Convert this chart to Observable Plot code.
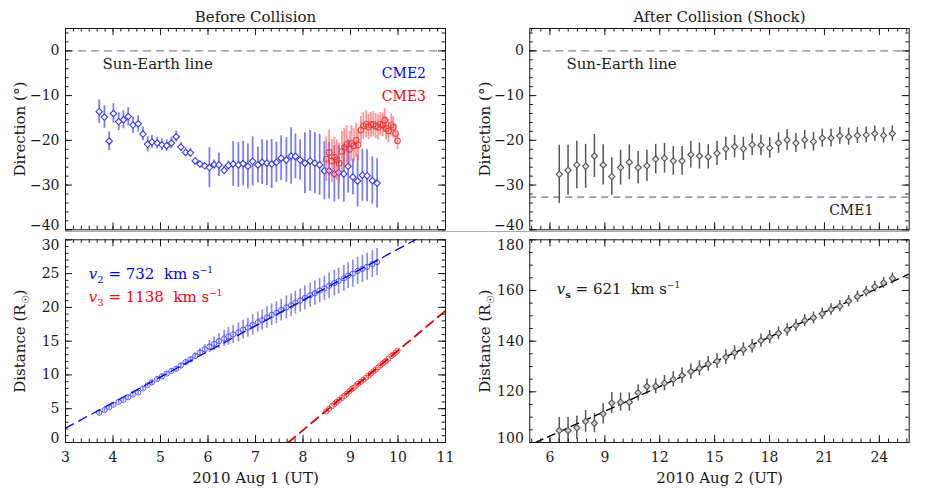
<!DOCTYPE html>
<html><head><meta charset="utf-8">
<script src="https://cdn.jsdelivr.net/npm/d3@7"></script>
<script src="https://cdn.jsdelivr.net/npm/@observablehq/plot@0.6"></script>
<style>
body{margin:0;background:#fff;}
#wrap{position:relative;width:929px;height:491px;background:#fff;font-family:"DejaVu Serif",serif;}
#wrap > svg{position:absolute;overflow:visible;}
#sep{position:absolute;left:65px;top:231px;width:844px;border-top:1.5px solid #aaa;}
</style></head><body><div id="wrap"><div id="sep"></div></div>
<script>
// ---------------- data ----------------
const panelTitles = ["Before Collision", "After Collision (Shock)"];
const xTitles = ["2010 Aug 1 (UT)", "2010 Aug 2 (UT)"];
const yTitles = ["Direction (°)", "Distance (R☉)"];

const dirTicks = [-40, -30, -20, -10, 0];
const distTicksL = [0, 5, 10, 15, 20, 25, 30];
const distTicksR = [100, 120, 140, 160, 180];
const hourTicksL = [3, 4, 5, 6, 7, 8, 9, 10, 11];
const hourTicksR = [6, 9, 12, 15, 18, 21, 24];

const cme2Time = [3.71,3.82,3.92,4.01,4.12,4.22,4.32,4.42,4.53,4.63,
  4.73,4.82,4.93,5.03,5.13,5.23,5.33,5.43,5.53,5.63,
  5.73,5.83,5.93,6.03,6.13,6.23,6.34,6.43,6.53,6.64,
  6.74,6.84,6.94,7.05,7.14,7.24,7.34,7.44,7.54,7.65,
  7.75,7.84,7.94,8.04,8.15,8.25,8.35,8.45,8.55,8.66,
  8.75,8.86,8.95,9.05,9.15,9.25,9.35,9.46,9.56];
const cme2Dir = [-13.6,-14.8,-20.2,-14.0,-15.8,-15.4,-14.7,-16.6,-16.3,-18.6,
  -20.9,-20.4,-20.6,-21.0,-21.2,-20.6,-19.2,-21.5,-22.7,-22.8,
  -24.6,-25.3,-25.7,-26.1,-25.4,-25.5,-26.7,-25.6,-25.3,-25.5,
  -25.2,-25.8,-24.7,-25.5,-24.9,-25.1,-25.3,-24.9,-24.0,-24.4,
  -23.5,-23.6,-24.4,-25.1,-24.6,-25.1,-25.5,-26.8,-26.8,-27.5,
  -27.2,-27.5,-25.8,-28.2,-29.1,-27.8,-27.9,-29.0,-29.6];
const cme2DirErr = [2.6,2.5,2.1,2.2,2.0,2.0,2.0,1.8,1.8,1.5,
  1.7,1.5,1.3,1.3,1.3,1.3,1.2,1.0,1.0,1.0,
  0.6,0.5,0.5,4.5,1.0,2.6,1.0,1.0,5.0,5.0,
  5.0,5.0,5.5,4.0,5.0,5.0,5.5,4.5,5.0,5.0,
  6.3,5.0,4.5,6.8,6.8,6.8,6.8,6.5,6.3,6.3,
  6.0,6.3,6.0,4.0,5.8,5.8,5.8,5.3,5.5];
const cme2Dist = [4.4,4.8,5.2,5.6,6.0,6.3,6.7,7.1,7.4,8.0,
  8.5,8.9,9.4,9.8,10.2,10.6,10.9,11.4,11.9,12.3,
  12.8,13.3,13.8,14.2,14.6,15.0,15.4,15.7,16.0,16.3,
  16.7,17.0,17.4,17.8,18.1,18.5,18.9,19.2,19.6,20.0,
  20.3,20.7,21.0,21.4,21.8,22.1,22.5,22.8,23.2,23.6,
  23.9,24.3,24.7,25.0,25.4,25.7,26.0,26.4,26.7];
const cme2DistErr = [0.3,0.3,0.3,0.3,0.3,0.3,0.3,0.3,0.3,0.3,
  0.3,0.3,0.3,0.3,0.3,0.3,0.3,0.4,0.4,0.4,
  0.5,0.6,0.7,0.9,1.0,1.1,1.2,1.3,1.3,1.4,
  1.4,1.4,1.5,1.5,1.5,1.6,1.6,1.6,1.6,1.7,
  1.7,1.7,1.7,1.8,1.8,1.8,1.8,1.8,1.9,1.9,
  1.9,1.9,1.9,2.0,2.0,2.0,2.0,2.0,2.0];

const cme3Time = [8.49,8.55,8.61,8.66,8.71,8.76,8.82,8.87,8.92,8.98,
  9.02,9.07,9.12,9.16,9.22,9.27,9.33,9.38,9.43,9.48,
  9.53,9.58,9.63,9.68,9.72,9.75,9.80,9.86,9.90,9.95,9.99];
const cme3Dir = [-24.2,-22.7,-24.6,-23.8,-24.4,-25.1,-22.5,-21.6,-20.9,-22.0,
  -20.7,-21.2,-20.0,-21.0,-17.7,-16.8,-16.4,-17.0,-16.5,-16.4,
  -16.8,-17.1,-16.4,-16.6,-15.5,-17.4,-17.9,-16.6,-17.1,-18.5,-20.1];
const cme3DirErr = [5.0,5.0,4.8,4.5,4.5,4.5,4.5,4.2,4.2,4.0,
  4.0,3.8,3.8,3.5,3.0,3.0,3.0,2.8,2.8,2.8,
  2.8,2.8,2.6,2.6,2.6,2.6,2.6,2.4,2.4,2.2,2.0];
const cme3Dist = [4.6,5.0,5.4,5.7,6.0,6.3,6.6,6.9,7.2,7.6,
  7.9,8.1,8.4,8.7,9.0,9.3,9.6,9.9,10.2,10.5,
  10.8,11.1,11.4,11.7,11.9,12.1,12.4,12.8,13.0,13.3,13.6];

const shockTime = [6.51,6.99,7.47,7.95,8.43,8.91,9.38,9.86,10.34,10.82,
  11.30,11.78,12.26,12.74,13.22,13.70,14.17,14.65,15.13,15.61,
  16.09,16.57,17.05,17.53,18.01,18.49,18.96,19.44,19.92,20.40,
  20.88,21.36,21.84,22.32,22.80,23.28,23.75,24.23,24.71];
const shockDir = [-27.6,-26.7,-25.5,-25.8,-23.5,-25.5,-28.1,-26.1,-24.9,-26.1,
  -25.7,-24.2,-24.0,-24.6,-24.6,-23.2,-23.5,-23.7,-22.9,-21.9,
  -21.4,-21.9,-21.0,-21.1,-21.7,-20.6,-19.9,-20.6,-19.9,-20.3,
  -19.5,-19.5,-19.0,-19.2,-18.9,-18.8,-18.5,-18.9,-18.5];
const shockDirErr = [6.5,5.6,5.3,4.9,4.8,4.5,4.2,3.9,3.9,3.6,
  3.5,3.3,3.3,3.2,3.2,3.0,2.9,2.7,2.7,2.6,
  2.5,2.6,2.4,2.3,2.3,2.3,2.3,2.1,2.1,2.1,
  2.0,2.0,1.9,1.9,1.8,1.8,1.7,1.7,1.7];
const shockDist = [104.7,104.7,105.8,108.3,107.6,111.3,115.6,115.9,115.9,119.6,
  122.1,122.2,123.4,124.9,126.4,128.0,129.3,131.0,132.1,133.7,
  135.4,136.7,138.0,140.2,141.6,143.1,144.4,146.2,148.1,149.2,
  150.8,152.5,153.8,155.8,157.6,159.6,161.5,163.0,164.8];
const shockDistErr = [5.2,5.2,4.6,4.3,3.8,4.0,4.1,3.6,3.6,3.2,
  3.0,3.0,3.0,3.0,3.0,3.0,3.0,2.9,2.9,2.9,
  2.8,2.7,2.7,2.6,2.6,2.5,2.5,2.4,2.4,2.3,
  2.3,2.3,2.2,2.2,2.2,2.1,2.1,2.1,2.1];

// fitted kinematics (end points of the dashed fit lines)
const fitCme2Time = [3.0, 10.4];
const fitCme2Dist = [2.12, 30.14];
const fitCme3Time = [7.69, 11.0];
const fitCme3Dist = [0.0, 19.5];
const fitShockTime = [5.22, 25.6];
const fitShockDist = [100.0, 166.4];

const sunEarthDir = [0];
const cme1Dir = [-32.7];

const speedNames = ["2", "3", "s"];
const speedValues = [732, 1138, 621];

// ---------------- helpers ----------------
const zip = (t, v, e) => t.map((x, i) => ({t: x, v: v[i], e: e ? e[i] : 0}));
const rng = (a, b, s) => d3.range(Math.round(a / s), Math.round(b / s) + 1).map(k => +(k * s).toFixed(4));
const INK = "#1a1a1a";
const FONT = "DejaVu Serif";

function frameTicks(xMaj, xMin, yMaj, yMin, fw, fh) {
  const L = 7, S = 3.5;
  return [
    Plot.tickY(yMaj, {y: d => d, insetRight: fw - L, stroke: INK}),
    Plot.tickY(yMaj, {y: d => d, insetLeft: fw - L, stroke: INK}),
    Plot.tickY(yMin, {y: d => d, insetRight: fw - S, stroke: INK}),
    Plot.tickY(yMin, {y: d => d, insetLeft: fw - S, stroke: INK}),
    Plot.tickX(xMaj, {x: d => d, insetTop: fh - L, stroke: INK}),
    Plot.tickX(xMaj, {x: d => d, insetBottom: fh - L, stroke: INK}),
    Plot.tickX(xMin, {x: d => d, insetTop: fh - S, stroke: INK}),
    Plot.tickX(xMin, {x: d => d, insetBottom: fh - S, stroke: INK})
  ];
}

function tspan(el, text, attrs = {}) {
  const t = document.createElementNS("http://www.w3.org/2000/svg", "tspan");
  for (const k in attrs) t.setAttribute(k, attrs[k]);
  t.textContent = text;
  el.appendChild(t);
}
function enrich(svg) {
  svg.querySelectorAll("text").forEach(el => {
    const s = el.textContent;
    if (s === yTitles[1]) {
      el.textContent = "";
      tspan(el, "Distance (R");
      tspan(el, "☉", {dy: 4, "font-size": 10});
      tspan(el, ")", {dy: -4});
    } else if (s.startsWith("v") && s.includes(" = ")) {
      const m = s.match(/^v(\S+) = (\d+)/);
      el.textContent = "";
      tspan(el, "v", {"font-style": "italic"});
      tspan(el, m[1], {dy: 4, "font-size": 10, "font-weight": m[1] === "s" ? "bold" : "normal"});
      tspan(el, " = " + m[2] + "  km s", {dy: -4});
      tspan(el, "−1", {dy: -6, "font-size": 9});
    }
  });
}

function place(svg, left, top) {
  svg.style.left = left + "px";
  svg.style.top = top + "px";
  enrich(svg);
  document.getElementById("wrap").appendChild(svg);
}

const baseStyle = {fontFamily: FONT, fontSize: "14px", color: INK, background: "transparent", overflow: "visible"};
const titleMark = (s) => Plot.text([s], {text: d => d, frameAnchor: "top", lineAnchor: "middle", dy: -11, fontSize: 15});
const xTitleMark = (s) => Plot.text([s], {text: d => d, frameAnchor: "bottom", lineAnchor: "middle", dy: 36, fontSize: 15});
const yTitleMark = (s) => Plot.text([s], {text: d => d, frameAnchor: "left", textAnchor: "middle", lineAnchor: "middle", rotate: -90, dx: -45, fontSize: 15});

// ---------------- top-left: direction before collision ----------------
{
  const W = 465, H = 235, mL = 65, mR = 20, mT = 28, mB = 5.7;
  const fw = W - mL - mR, fh = H - mT - mB;
  const blue = zip(cme2Time, cme2Dir, cme2DirErr);
  const red = zip(cme3Time, cme3Dir, cme3DirErr);
  const svg = Plot.plot({
    width: W, height: H, marginLeft: mL, marginRight: mR, marginTop: mT, marginBottom: mB,
    x: {domain: [3, 11], axis: null},
    y: {domain: [-40, 5], axis: null},
    style: baseStyle,
    marks: [
      Plot.ruleY(sunEarthDir, {stroke: "#888", strokeWidth: 1.3, strokeDasharray: "8,5"}),
      Plot.ruleX(blue, {x: "t", y1: d => d.v - d.e, y2: d => d.v + d.e, stroke: "#5050ff", strokeOpacity: 0.75, strokeWidth: 1.8}),
      Plot.dot(blue, {x: "t", y: "v", symbol: "diamond2", r: 2.9, stroke: "#3535ff", strokeWidth: 1.1, fill: "white"}),
      Plot.ruleX(red, {x: "t", y1: d => d.v - d.e, y2: d => d.v + d.e, stroke: "#ff5050", strokeOpacity: 0.6, strokeWidth: 1.8}),
      Plot.dot(red, {x: "t", y: "v", r: 2.8, stroke: "#ee3030", strokeOpacity: 0.85, strokeWidth: 1.1, fill: "none"}),
      Plot.text(["Sun-Earth line"], {x: 3.78, y: -3.0, text: d => d, textAnchor: "start", fontSize: 15, fill: INK}),
      Plot.text(["CME2"], {x: 10.59, y: -5.1, text: d => d, textAnchor: "end", fontSize: 14, fill: "#0000ff"}),
      Plot.text(["CME3"], {x: 10.59, y: -10.1, text: d => d, textAnchor: "end", fontSize: 14, fill: "#ff0000"}),
      Plot.frame({stroke: INK}),
      ...frameTicks(hourTicksL, rng(3, 11, 1/6), dirTicks, rng(-40, 4, 2), fw, fh),
      Plot.axisY(dirTicks.slice(1), {tickSize: 0, tickPadding: 6, label: null, fontSize: 14}),
      Plot.axisY(dirTicks.slice(0, 1), {tickSize: 0, tickPadding: 6, dy: -4, label: null, fontSize: 14}),
      titleMark(panelTitles[0]),
      yTitleMark(yTitles[0])
    ]
  });
  place(svg, 0, 0);
}

// ---------------- bottom-left: distance before collision ----------------
{
  const W = 465, H = 256, mL = 65, mR = 20, mT = 4.3, mB = 49;
  const fw = W - mL - mR, fh = H - mT - mB;
  const blue = zip(cme2Time, cme2Dist, cme2DistErr);
  const red = zip(cme3Time, cme3Dist);
  const f2 = zip(fitCme2Time, fitCme2Dist);
  const f3 = zip(fitCme3Time, fitCme3Dist);
  const labels = speedNames.slice(0, 2).map((n, i) => ({t: 3.49, v: [24.96, 21.5][i], text: `v${n} = ${speedValues[i]}  km s-1`, c: ["#0000ff", "#ff0000"][i]}));
  const svg = Plot.plot({
    width: W, height: H, marginLeft: mL, marginRight: mR, marginTop: mT, marginBottom: mB,
    x: {domain: [3, 11], axis: null},
    y: {domain: [0, 30], axis: null},
    style: baseStyle,
    marks: [
      Plot.ruleX(blue, {x: "t", y1: d => d.v - d.e, y2: d => d.v + d.e, stroke: "#5050ff", strokeOpacity: 0.7, strokeWidth: 1.6}),
      Plot.dot(blue, {x: "t", y: "v", r: 2.6, stroke: "#4040ff", strokeOpacity: 0.85, strokeWidth: 1, fill: "none"}),
      Plot.dot(red, {x: "t", y: "v", r: 2.6, stroke: "#ee2a2a", strokeOpacity: 0.85, strokeWidth: 1, fill: "none"}),
      Plot.line(f2, {x: "t", y: "v", stroke: "#0000ff", strokeWidth: 1.3, strokeDasharray: "9,6", clip: true}),
      Plot.line(f3, {x: "t", y: "v", stroke: "#dd0000", strokeWidth: 1.8, strokeDasharray: "9,6", clip: true}),
      Plot.text(labels, {x: "t", y: "v", text: "text", fill: "c", textAnchor: "start", fontSize: 15}),
      Plot.frame({stroke: INK}),
      ...frameTicks(hourTicksL, rng(3, 11, 1/6), distTicksL, rng(0, 30, 1), fw, fh),
      Plot.axisY(distTicksL.slice(1, -1), {tickSize: 0, tickPadding: 6, label: null, fontSize: 14}),
      Plot.axisY(distTicksL.slice(0, 1), {tickSize: 0, tickPadding: 6, dy: -4, label: null, fontSize: 14}),
      Plot.axisY(distTicksL.slice(-1), {tickSize: 0, tickPadding: 6, dy: 6, label: null, fontSize: 14}),
      Plot.axisX(hourTicksL, {tickSize: 0, tickPadding: 10, label: null, fontSize: 14}),
      xTitleMark(xTitles[0]),
      yTitleMark(yTitles[1])
    ]
  });
  place(svg, 0, 235);
}

// ---------------- top-right: direction after collision ----------------
{
  const W = 464, H = 235, mL = 64.3, mR = 20.3, mT = 28, mB = 5.7;
  const fw = W - mL - mR, fh = H - mT - mB;
  const gray = zip(shockTime, shockDir, shockDirErr);
  const svg = Plot.plot({
    width: W, height: H, marginLeft: mL, marginRight: mR, marginTop: mT, marginBottom: mB,
    x: {domain: [4.9, 25.63], axis: null},
    y: {domain: [-40, 5], axis: null},
    style: baseStyle,
    marks: [
      Plot.ruleY(sunEarthDir, {stroke: "#888", strokeWidth: 1.3, strokeDasharray: "8,5"}),
      Plot.ruleY(cme1Dir, {stroke: "#777", strokeWidth: 1.2, strokeDasharray: "7,5"}),
      Plot.ruleX(gray, {x: "t", y1: d => d.v - d.e, y2: d => d.v + d.e, stroke: "#555", strokeWidth: 1.5}),
      Plot.dot(gray, {x: "t", y: "v", symbol: "diamond2", r: 2.8, stroke: "#555", strokeWidth: 1.1, fill: "#e6e6e6"}),
      Plot.text(["Sun-Earth line"], {x: 6.9, y: -3.0, text: d => d, textAnchor: "start", fontSize: 15, fill: INK}),
      Plot.text(["CME1"], {x: 23.67, y: -35.7, text: d => d, textAnchor: "end", fontSize: 14, fill: INK}),
      Plot.frame({stroke: INK}),
      ...frameTicks(hourTicksR, rng(5, 25.5, 0.5), dirTicks, rng(-40, 4, 2), fw, fh),
      Plot.axisY(dirTicks.slice(1), {tickSize: 0, tickPadding: 6, label: null, fontSize: 14}),
      Plot.axisY(dirTicks.slice(0, 1), {tickSize: 0, tickPadding: 6, dy: -4, label: null, fontSize: 14}),
      titleMark(panelTitles[1]),
      yTitleMark(yTitles[0])
    ]
  });
  place(svg, 465, 0);
}

// ---------------- bottom-right: distance after collision ----------------
{
  const W = 464, H = 256, mL = 64.3, mR = 20.3, mT = 4.3, mB = 49;
  const fw = W - mL - mR, fh = H - mT - mB;
  const gray = zip(shockTime, shockDist, shockDistErr);
  const fs = zip(fitShockTime, fitShockDist);
  const labels = [{t: 6.37, v: 160.4, text: `v${speedNames[2]} = ${speedValues[2]}  km s-1`}];
  const svg = Plot.plot({
    width: W, height: H, marginLeft: mL, marginRight: mR, marginTop: mT, marginBottom: mB,
    x: {domain: [4.9, 25.63], axis: null},
    y: {domain: [100, 180], axis: null},
    style: baseStyle,
    marks: [
      Plot.ruleX(gray, {x: "t", y1: d => d.v - d.e, y2: d => d.v + d.e, stroke: "#555", strokeWidth: 1.5, clip: true}),
      Plot.line(fs, {x: "t", y: "v", stroke: "#000", strokeWidth: 1.4, strokeDasharray: "8,5", clip: true}),
      Plot.dot(gray, {x: "t", y: "v", symbol: "diamond2", r: 2.8, stroke: "#555", strokeWidth: 1.1, fill: "#cfcfcf"}),
      Plot.text(labels, {x: "t", y: "v", text: "text", fill: INK, textAnchor: "start", fontSize: 15}),
      Plot.frame({stroke: INK}),
      ...frameTicks(hourTicksR, rng(5, 25.5, 0.5), distTicksR, rng(100, 180, 5), fw, fh),
      Plot.axisY(distTicksR.slice(1, -1), {tickSize: 0, tickPadding: 6, label: null, fontSize: 14}),
      Plot.axisY(distTicksR.slice(0, 1), {tickSize: 0, tickPadding: 6, dy: -4, label: null, fontSize: 14}),
      Plot.axisY(distTicksR.slice(-1), {tickSize: 0, tickPadding: 6, dy: 6, label: null, fontSize: 14}),
      Plot.axisX(hourTicksR, {tickSize: 0, tickPadding: 10, label: null, fontSize: 14}),
      xTitleMark(xTitles[1]),
      yTitleMark(yTitles[1])
    ]
  });
  place(svg, 465, 235);
}
</script></body></html>
